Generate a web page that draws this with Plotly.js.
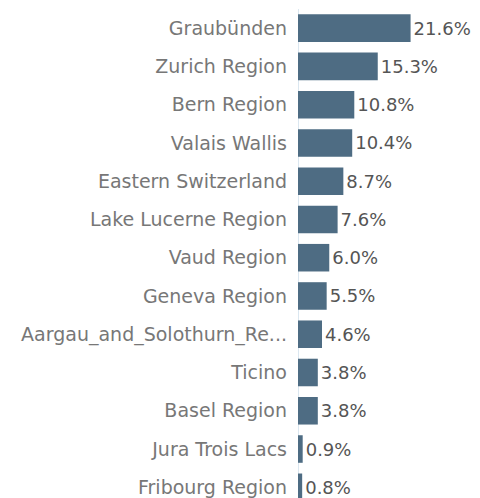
<!DOCTYPE html>
<html>
<head>
<meta charset="utf-8">
<script src="https://cdn.plot.ly/plotly-3.0.1.min.js"></script>
<style>html,body{margin:0;padding:0;background:#fff;}#chart{width:480px;height:498px;}</style>
</head>
<body>
<div id="chart"></div>
<script>
const regions = ["Graubünden","Zurich Region","Bern Region","Valais Wallis","Eastern Switzerland","Lake Lucerne Region","Vaud Region","Geneva Region","Aargau_and_Solothurn_Re...","Ticino","Basel Region","Jura Trois Lacs","Fribourg Region"];
const shares = [21.6,15.3,10.8,10.4,8.7,7.6,6.0,5.5,4.6,3.8,3.8,0.9,0.8];
const labels = shares.map(v => v.toFixed(1) + "%");

Plotly.newPlot("chart", [{
  type: "bar",
  orientation: "h",
  x: shares,
  y: regions,
  text: labels,
  textposition: "outside",
  cliponaxis: false,
  textfont: {family: "DejaVu Sans, sans-serif", size: 18, color: "#555"},
  marker: {color: "#4e6c83"},
  hoverinfo: "none"
}], {
  width: 480, height: 498,
  margin: {l: 298, r: 10, t: 9, b: 0},
  paper_bgcolor: "#fff", plot_bgcolor: "#fff",
  bargap: 0.28,
  showlegend: false,
  uniformtext: {mode: false},
  xaxis: {range: [0, 33], visible: true, showgrid: false, showticklabels: false, zeroline: true, zerolinecolor: "#dbe7f0", zerolinewidth: 1, showline: false, fixedrange: true},
  yaxis: {type: "category", range: [12.28, -0.5], showgrid: false, zeroline: false, showline: false, ticks: "", ticklabelstandoff: 10,
    tickfont: {family: "DejaVu Sans, sans-serif", size: 19, color: "#777"}, automargin: false}
}, {displayModeBar: false, staticPlot: true});
</script>
</body>
</html>
